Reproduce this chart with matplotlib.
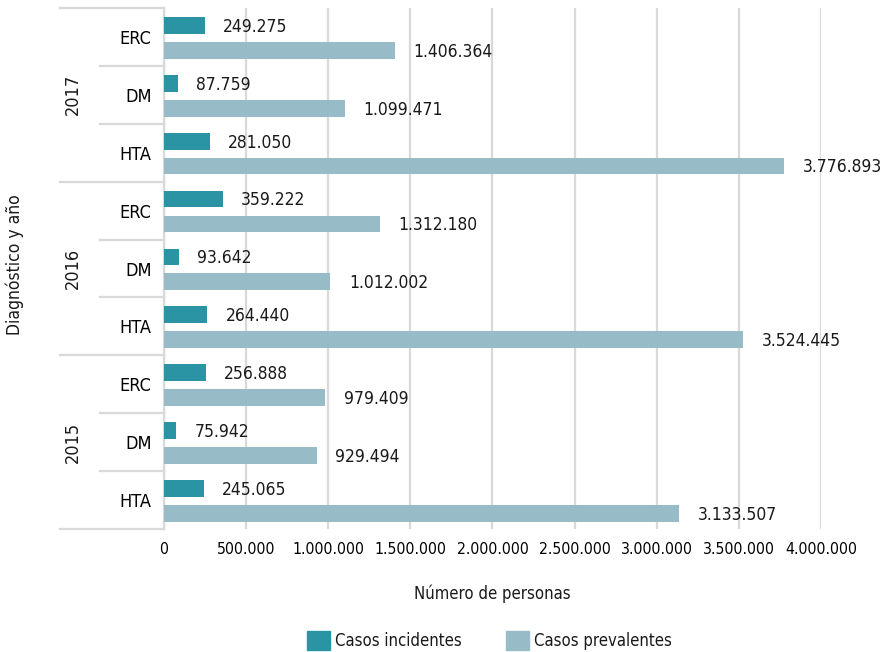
import matplotlib
matplotlib.use("Agg")
import matplotlib.pyplot as plt
from matplotlib import font_manager
from matplotlib.patches import Patch
from matplotlib.transforms import blended_transform_factory
import numpy as np

# =========================
# DATA
# =========================

years = ["2017", "2016", "2015"]
diagnoses = ["ERC", "DM", "HTA"]

# top to bottom: 2017 ERC, DM, HTA, 2016 ..., 2015 ...
incidentes = [249275, 87759, 281050, 359222, 93642, 264440, 256888, 75942, 245065]
prevalentes = [1406364, 1099471, 3776893, 1312180, 1012002, 3524445, 979409, 929494, 3133507]

x_ticks = [0, 500000, 1000000, 1500000, 2000000, 2500000, 3000000, 3500000, 4000000]

COLOR_INC = "#2A94A5"
COLOR_PREV = "#97BBC7"
GRID = "#D9D9D9"


# =========================
# FONT
# =========================

names = {f.name for f in font_manager.fontManager.ttflist}
if "Liberation Sans Narrow" in names:
    plt.rcParams["font.family"] = ["Liberation Sans Narrow", "DejaVu Sans"]
else:
    plt.rcParams["font.family"] = ["DejaVu Sans"]
    plt.rcParams["font.stretch"] = "condensed"
plt.rcParams["text.color"] = "#1a1a1a"


def fmt(v):
    return f"{v:,}".replace(",", ".")


# =========================
# PLOT
# =========================

fig = plt.figure(figsize=(8.85, 6.52), dpi=100)
ax = fig.add_axes([164 / 885, 1 - 529 / 652, (821 - 164) / 885, (529 - 8) / 652])

y = np.arange(len(incidentes))
h = 0.29

ax.barh(y - 0.2, incidentes, height=h, color=COLOR_INC, zorder=3)
ax.barh(y + 0.23, prevalentes, height=h, color=COLOR_PREV, zorder=3)

for i in range(len(y)):
    ax.annotate(fmt(incidentes[i]), (incidentes[i], y[i] - 0.2), xytext=(13, -1),
                textcoords="offset points", va="center", ha="left", fontsize=12.5)
    ax.annotate(fmt(prevalentes[i]), (prevalentes[i], y[i] + 0.23), xytext=(13.5, -1),
                textcoords="offset points", va="center", ha="left", fontsize=12.5)

ax.set_xlim(0, 4000000)
ax.set_ylim(8.5, -0.5)
ax.set_xticks(x_ticks)
ax.set_xticklabels([fmt(v) for v in x_ticks], fontsize=11.3)
ax.tick_params(axis="x", length=0, pad=9)

ax.set_yticks(y)
ax.set_yticklabels(diagnoses * len(years), fontsize=13)
ax.tick_params(axis="y", length=0, pad=9)

ax.grid(axis="x", color=GRID, lw=1.6, zorder=0)
for s in ["top", "right", "bottom"]:
    ax.spines[s].set_visible(False)
ax.spines["left"].set_color(GRID)
ax.spines["left"].set_linewidth(1.6)

# hierarchical category lines
tr = blended_transform_factory(ax.transAxes, ax.transData)
x_year = (60 - 164) / 657
x_diag = (100 - 164) / 657
for b in [-0.5, 2.5, 5.5, 8.5]:
    ax.plot([x_year, 0], [b, b], color=GRID, lw=1.6, transform=tr, clip_on=False)
for b in [0.5, 1.5, 3.5, 4.5, 6.5, 7.5]:
    ax.plot([x_diag, 0], [b, b], color=GRID, lw=1.6, transform=tr, clip_on=False)

for k, yr in enumerate(years):
    ax.text((73 - 164) / 657, 3 * k + 1, yr, transform=tr, rotation=90,
            ha="center", va="center", fontsize=13)

fig.text(15 / 885, 1 - 265 / 652, "Diagnóstico y año", rotation=90,
         ha="center", va="center", fontsize=12.5)
fig.text(492 / 885, 1 - 594 / 652, "Número de personas",
         ha="center", va="center", fontsize=12)

handles = [Patch(color=COLOR_INC, label="Casos incidentes"),
           Patch(color=COLOR_PREV, label="Casos prevalentes")]
fig.legend(handles=handles, loc="center", bbox_to_anchor=(0.553, 0.018), ncol=2,
           frameon=False, fontsize=12, handlelength=1.4, handleheight=1.4,
           handletextpad=0.3, columnspacing=2.6)

fig.savefig("out.png", dpi=100)
